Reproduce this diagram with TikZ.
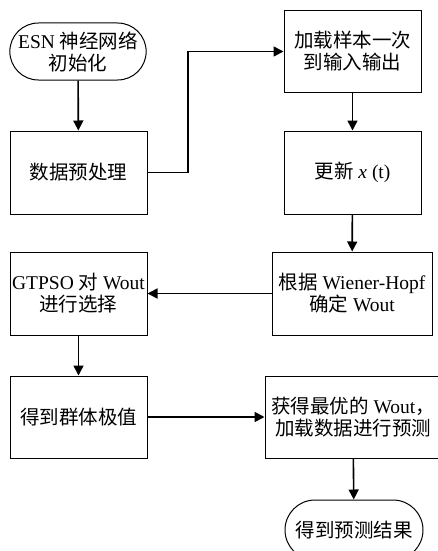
\documentclass[tikz,border=0pt]{standalone}
\usepackage{fontspec}
\setmainfont{Liberation Serif}
\newfontfamily\cjk{Noto Sans CJK SC}
\usetikzlibrary{shapes.misc,arrows.meta}
\begin{document}
\begin{tikzpicture}[x=1pt,y=-1pt,
  box/.style={draw,line width=1pt,rectangle,inner sep=0pt,align=center,font=\fontsize{19.5}{22}\selectfont},
  term/.style={draw,line width=1pt,rounded rectangle,inner sep=0pt,align=center,font=\fontsize{19.5}{22}\selectfont},
  conn/.style={line width=1.6pt,-{Triangle[length=10pt,width=10pt]}}]
\clip (0,0) rectangle (438,551);
\useasboundingbox (0,0) rectangle (438,551);
\node[term,minimum width=136pt,minimum height=57pt] (start) at (78,51.5) {ESN {\cjk 神经网络}\\{\cjk 初始化}};
\node[box,minimum width=137pt,minimum height=83pt] (pre) at (78.5,172.5) {{\cjk 数据预处理}};
\node[box,minimum width=137pt,minimum height=81pt] (load) at (352.5,51.5) {{\cjk 加载样本一次}\\{\cjk 到输入输出}};
\node[box,minimum width=137pt,minimum height=83pt] (upd) at (352.5,172.5) {{\cjk 更新} \textit{x} (t)};
\node[box,minimum width=160pt,minimum height=83pt] (wh) at (352,293.5) {{\cjk 根据} Wiener-Hopf\\{\cjk 确定} Wout};
\node[box,minimum width=137pt,minimum height=83pt] (gtp) at (78.5,293.5) {GTPSO {\cjk 对} Wout\\{\cjk 进行选择}};
\node[box,minimum width=137pt,minimum height=82pt] (grp) at (78.5,417) {{\cjk 得到群体极值}};
\node[box,minimum width=176pt,minimum height=82pt] (best) at (353,417) {{\cjk 获得最优的} Wout{\cjk ，}\\{\cjk 加载数据进行预测}};
\node[term,minimum width=138pt,minimum height=60pt] (end) at (354,530) {{\cjk 得到预测结果}};
\coordinate (c1) at (188,172.5);
\coordinate (c2) at (188,51.5);
\draw[conn] (start) -- (pre);
\draw[conn] (pre.east) -- (c1) -- (c2) -- (load.west);
\draw[conn] (load) -- (upd);
\draw[conn] (upd) -- (wh);
\draw[conn] (wh) -- (gtp);
\draw[conn] (gtp) -- (grp);
\draw[conn] (grp) -- (best);
\draw[conn] (best) -- (end);
\end{tikzpicture}
\end{document}
